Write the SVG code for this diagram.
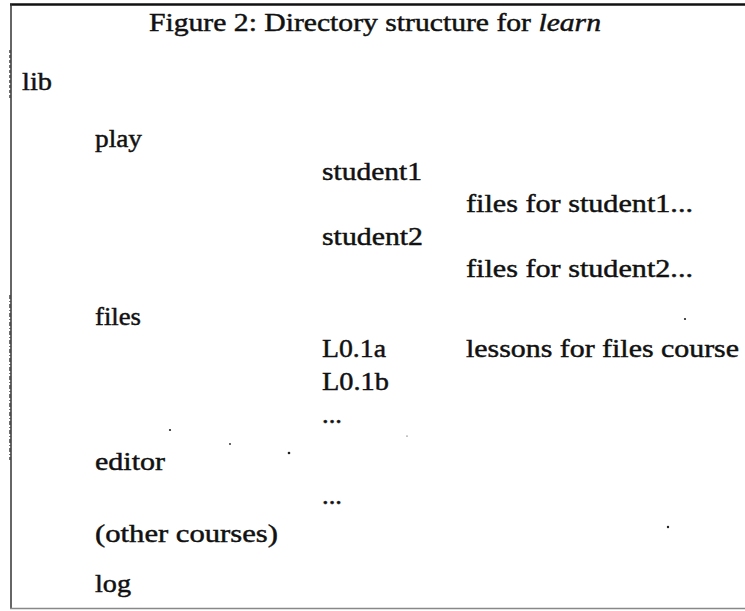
<svg xmlns="http://www.w3.org/2000/svg" width="745" height="611" viewBox="0 0 745 611">
  <style>
    .t { font-family: "Liberation Serif", "Times New Roman", serif; font-size: 25px; fill: #111; stroke: #111; stroke-width: 0.45; }
    .it { font-style: italic; }
    .speck { fill: #222; }
  </style>
  <rect x="0" y="0" width="745" height="611" fill="#fff"/>
  <g id="frame">
    <line x1="10" y1="4.5" x2="745" y2="4.5" stroke="#111" stroke-width="2.5"/>
    <line x1="11" y1="4" x2="11" y2="608" stroke="#333" stroke-width="1.5"/>
    <line x1="10" y1="50" x2="10" y2="100" stroke="#444" stroke-width="1.5" stroke-dasharray="3 2"/>
    <line x1="10" y1="295" x2="10" y2="460" stroke="#444" stroke-width="1.5" stroke-dasharray="4 2 1 2"/>
    <line x1="10" y1="608.5" x2="745" y2="608.5" stroke="#888" stroke-width="1.5"/>
  </g>
  <g id="title">
    <text class="t" x="149" y="31" textLength="452" lengthAdjust="spacingAndGlyphs">Figure 2:  Directory structure for <tspan class="it">learn</tspan></text>
  </g>
  <g id="lib"><text class="t" x="22" y="90" textLength="30" lengthAdjust="spacingAndGlyphs">lib</text></g>
  <g id="play"><text class="t" x="95" y="147" textLength="47" lengthAdjust="spacingAndGlyphs">play</text></g>
  <g id="student1"><text class="t" x="322" y="180" textLength="100" lengthAdjust="spacingAndGlyphs">student1</text></g>
  <g id="student1-files"><text class="t" x="466" y="212" textLength="227" lengthAdjust="spacingAndGlyphs">files for student1...</text></g>
  <g id="student2"><text class="t" x="322" y="245" textLength="101" lengthAdjust="spacingAndGlyphs">student2</text></g>
  <g id="student2-files"><text class="t" x="466" y="277" textLength="227" lengthAdjust="spacingAndGlyphs">files for student2...</text></g>
  <g id="files"><text class="t" x="95" y="325" textLength="46" lengthAdjust="spacingAndGlyphs">files</text></g>
  <g id="L0.1a"><text class="t" x="322" y="357" textLength="64" lengthAdjust="spacingAndGlyphs">L0.1a</text></g>
  <g id="lessons"><text class="t" x="466" y="357" textLength="273" lengthAdjust="spacingAndGlyphs">lessons for files course</text></g>
  <g id="L0.1b"><text class="t" x="322" y="390" textLength="67" lengthAdjust="spacingAndGlyphs">L0.1b</text></g>
  <g id="files-more"><text class="t" x="322" y="423" textLength="20" lengthAdjust="spacingAndGlyphs">...</text></g>
  <g id="editor"><text class="t" x="95" y="470" textLength="70" lengthAdjust="spacingAndGlyphs">editor</text></g>
  <g id="editor-more"><text class="t" x="322" y="504" textLength="20" lengthAdjust="spacingAndGlyphs">...</text></g>
  <g id="other-courses"><text class="t" x="95" y="542" textLength="183" lengthAdjust="spacingAndGlyphs">(other courses)</text></g>
  <g id="log"><text class="t" x="95" y="592" textLength="36" lengthAdjust="spacingAndGlyphs">log</text></g>
  <g id="specks">
    <circle class="speck" cx="685" cy="319" r="1.1"/>
    <circle class="speck" cx="170" cy="430" r="1.1"/>
    <circle class="speck" cx="230" cy="444" r="0.9"/>
    <circle class="speck" cx="289" cy="453" r="1.3"/>
    <circle class="speck" cx="668" cy="527" r="1.2"/>
    <circle class="speck" cx="407" cy="436" r="0.6"/>
  </g>
</svg>
